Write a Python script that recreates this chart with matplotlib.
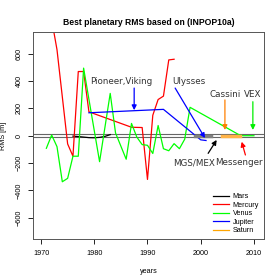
import numpy as np
import matplotlib
matplotlib.use("Agg")
import matplotlib.pyplot as plt

# data
mercury_years = [1972, 1973, 1975, 1976, 1977, 1978, 1979, 1987, 1989, 1990, 1991, 1992, 1993, 1994, 1995]
mercury_rms = [850, 630, -60, -150, 470, 470, 175, 62, 60, -320, 150, 265, 290, 555, 560]

venus_years = [1971, 1972, 1973, 1974, 1975, 1976, 1977, 1978, 1981, 1983, 1984, 1986, 1987, 1988,
               1989, 1990, 1991, 1992, 1993, 1994, 1995, 1996, 1997, 1998, 2007.3, 2008, 2009, 2010]
venus_rms = [-92, 5, -80, -337, -312, -150, -150, 495, -190, 310, 20, -172, 90, -10,
             -65, -70, -130, 75, -95, -110, -58, -95, -25, 208, 5, 0, 0, 0]

mars_years = [1976, 1977, 1978, 1979, 1980, 1981, 1982, 1983]
mars_rms = [-3, -6, -10, -14, -15, -12, -5, 8]
mars_late_years = [1999, 2000, 2001, 2002, 2002.6, 2003.2]
mars_late_rms = [0, 0, 0, 0, np.nan, 0]

jupiter_years = [1979, 1993, 2000, 2001]
jupiter_rms = [168, 193, -30, -35]

saturn_years = [2004, 2005, 2006, 2007.3]
saturn_rms = [0, 0, 0, 0]

# annotations: label, text position, arrow tail, arrow head, colour
notes = [
    ("Pioneer,Viking", (1985.1, 400), (1987.5, 349), (1987.5, 187), "blue"),
    ("Ulysses", (1997.8, 400), (1995.2, 349), (2000.8, -17), "blue"),
    ("Cassini", (2004.55, 305), (2004.55, 262), (2004.55, 42), "#ff7f00"),
    ("VEX", (2009.7, 305), (2009.8, 249), (2009.8, 42), "#00ee00"),
    ("MGS/MEX", (1998.7, -198), (2001.4, -129), (2003.0, -31), "black"),
    ("Messenger", (2007.1, -198), (2008.4, -141), (2007.7, -44), "red"),
]

plt.rcParams['font.family'] = ['Liberation Sans', 'DejaVu Sans']

fig = plt.figure(figsize=(2.8, 2.8), dpi=100)
ax = fig.add_axes([0.118, 0.146, 0.825, 0.740])

ax.axhline(10, color="#666666", lw=0.8)
ax.axhline(-10, color="#666666", lw=0.8)

ax.plot(mars_years, mars_rms, color="black", lw=0.9, label="Mars")
ax.plot(mercury_years, mercury_rms, color="red", lw=0.9, label="Mercury")
ax.plot(venus_years, venus_rms, color="#00ff00", lw=0.9, label="Venus")
ax.plot(jupiter_years, jupiter_rms, color="blue", lw=0.9, label="Jupiter")
ax.plot(saturn_years, saturn_rms, color="#ffb347", lw=2.5)
ax.plot([], [], color="orange", lw=0.9, label="Saturn")
ax.plot(mars_late_years, mars_late_rms, color="#808080", lw=2.5)

for label, txt, tail, head, col in notes:
    ax.text(txt[0], txt[1], label, fontsize=6.3, family="DejaVu Sans",
            ha="center", va="center", color="#333333")
    ax.annotate("", xy=head, xytext=tail,
                arrowprops=dict(arrowstyle="-|>", color=col, lw=0.9,
                                mutation_scale=7, shrinkA=0, shrinkB=0))

ax.set_xlim(1968.5, 2011.9)
ax.set_ylim(-757, 760)
ax.set_xticks([1970, 1980, 1990, 2000, 2010])
ax.set_yticks([-600, -400, -200, 0, 200, 400, 600])
ax.tick_params(direction="out", length=3.6, width=0.6, labelsize=5.2, pad=4)
for lab in ax.get_yticklabels():
    lab.set_rotation(90)
    lab.set_va("center")
for sp in ax.spines.values():
    sp.set_color("#555555")
    sp.set_linewidth(0.7)

ax.set_title("Best planetary RMS based on (INPOP10a)", fontsize=6.2, fontweight="bold", pad=5)
ax.set_xlabel("years", fontsize=5.2, labelpad=8)
ax.set_ylabel("RMS [m]", fontsize=5.2, labelpad=6)

ax.legend(loc="lower right", bbox_to_anchor=(1.0, 0.0), frameon=False, fontsize=5.2,
          handlelength=2.2, labelspacing=0.2, handletextpad=0.5, borderaxespad=0.3)

fig.savefig("out.png", dpi=100)
